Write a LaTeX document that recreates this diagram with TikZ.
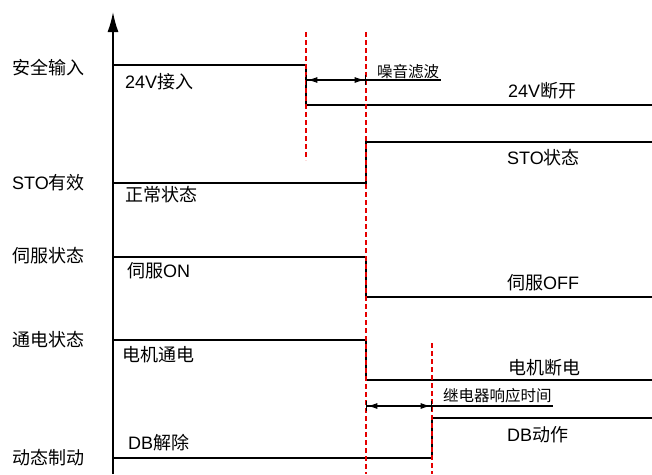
\documentclass[tikz,border=0pt]{standalone}
\usepackage{fontspec}
\setmainfont{Liberation Sans}
\newfontfamily\cjk{Noto Sans CJK SC}
\usetikzlibrary{arrows.meta}

\tikzset{
    lbl/.style={anchor=west,inner sep=0pt,font=\fontsize{18}{21}\selectfont},
    small/.style={anchor=west,inner sep=0pt,font=\fontsize{15.5}{18}\selectfont},
    sig/.style={line width=1.6pt},
    redcut/.style={red!90!black,line width=1.5pt,dash pattern=on 5pt off 3pt},
    span/.style={line width=1.3pt,{Bar[width=10pt]Latex[length=10pt,width=6pt]}-{Latex[length=10pt,width=6pt]Bar[width=10pt]}}
}

\begin{document}
\begin{tikzpicture}[x=1pt,y=-1pt]
    \useasboundingbox (0,0) rectangle (652,474);

    % row names
    \node[lbl] (in)    at (12,68)  {\cjk 安全输入};
    \node[lbl] (sto)   at (12,183) {STO\cjk 有效};
    \node[lbl] (servo) at (12,256) {\cjk 伺服状态};
    \node[lbl] (power) at (12,340) {\cjk 通电状态};
    \node[lbl] (db)    at (12,458) {\cjk 动态制动};

    % axis
    \coordinate (base) at (113,474);
    \coordinate (top) at (113,12);
    \draw[sig,-{Latex[length=20pt,width=11pt]}] (base) -- (top);

    % red marks
    \coordinate (m1a) at (306,32);  \coordinate (m1b) at (306,160);
    \coordinate (m2a) at (366,32);  \coordinate (m2b) at (366,474);
    \coordinate (m3a) at (432,343); \coordinate (m3b) at (432,474);

    % safety input
    \draw[sig] (113,65) -- (306,65) -- (306,105) -- (652,105);
    \node[lbl] (on24)  at (125,82) {24V\cjk 接入};
    \node[lbl] (off24) at (508,91) {24V\cjk 断开};

    % STO
    \draw[sig] (113,183) -- (366,183) -- (366,142) -- (652,142);
    \node[lbl] (normal) at (125,195) {\cjk 正常状态};
    \node[lbl] (stoon)  at (507,158) {STO\cjk 状态};

    % servo
    \draw[sig] (113,257) -- (366,257) -- (366,297) -- (652,297);
    \node[lbl] (svon)  at (127,271) {\cjk 伺服{\rmfamily ON}};
    \node[lbl] (svoff) at (507,283) {\cjk 伺服{\rmfamily OFF}};

    % motor power
    \draw[sig] (113,340) -- (366,340) -- (366,380) -- (652,380);
    \node[lbl] (mon)  at (122,355) {\cjk 电机通电};
    \node[lbl] (moff) at (508,368) {\cjk 电机断电};

    % dynamic brake
    \draw[sig] (113,458) -- (432,458) -- (432,418) -- (652,418);
    \node[lbl] (dboff) at (128,443) {DB\cjk 解除};
    \node[lbl] (dbon)  at (507,435) {DB\cjk 动作};

    \draw[redcut] (m1a) -- (m1b);
    \draw[redcut] (m2a) -- (m2b);
    \draw[redcut] (m3a) -- (m3b);

    % time spans
    \coordinate (n1) at (306,80); \coordinate (n2) at (366,80); \coordinate (n3) at (441,80);
    \draw[span] (n1) -- (n2);
    \draw[line width=1.3pt] (n2) -- (n3);
    \node[small] (noise) at (377,72) {\cjk 噪音滤波};

    \coordinate (r1) at (366,406); \coordinate (r2) at (432,406); \coordinate (r3) at (553,406);
    \draw[span] (r1) -- (r2);
    \draw[line width=1.3pt] (r2) -- (r3);
    \node[small] (relay) at (443,396) {\cjk 继电器响应时间};
\end{tikzpicture}
\end{document}
